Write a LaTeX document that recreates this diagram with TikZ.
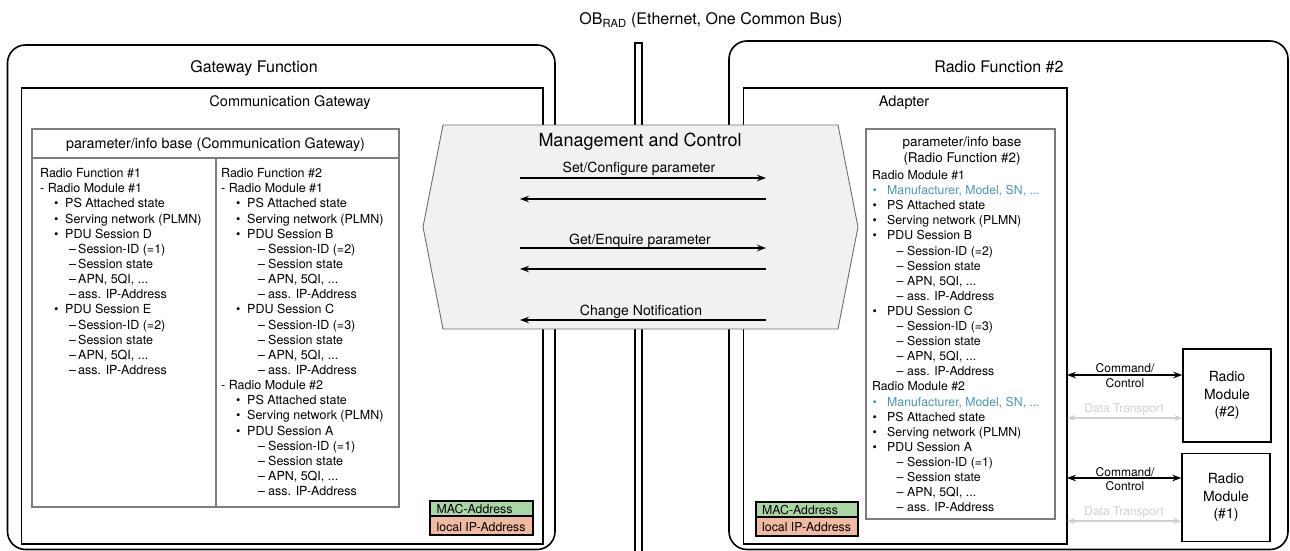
\documentclass[tikz,border=0pt]{standalone}
\usepackage{fontspec}
\setmainfont{TeX Gyre Heros}
\usetikzlibrary{arrows.meta,calc}

\definecolor{macgreen}{RGB}{170,214,166}
\definecolor{ipsalmon}{RGB}{240,186,160}
\definecolor{infoteal}{RGB}{74,152,178}
\definecolor{mgmtfill}{RGB}{241,241,241}
\definecolor{mgmtline}{RGB}{110,110,110}
\definecolor{tblgray}{RGB}{125,125,125}
\definecolor{faint}{RGB}{208,208,208}

% indentation of bullet and dash entries in the parameter lists
\newlength\bulx \newlength\bulw \newlength\dshx \newlength\dshw
\newcommand{\bitem}[1]{\hspace*{\bulx}\makebox[\bulw][l]{•}#1}
\newcommand{\ditem}[1]{\hspace*{\dshx}\makebox[\dshw][l]{–}#1}

\begin{document}
\begin{tikzpicture}[x=1pt,y=-1pt,
  outerbox/.style={draw=black, line width=1.6pt, rounded corners=18pt},
  innerbox/.style={draw=black, line width=1.4pt},
  tablebox/.style={draw=tblgray, line width=1.1pt},
  txt/.style={inner sep=0pt, anchor=base},
  bigtitle/.style={txt, font=\fontsize{16}{19}\selectfont},
  subtitle/.style={txt, font=\fontsize{14.5}{17}\selectfont},
  hdr/.style={txt, font=\fontsize{14.3}{17}\selectfont},
  rhdr/.style={txt, font=\fontsize{13.4}{16}\selectfont},
  mctitle/.style={txt, font=\fontsize{18}{21}\selectfont},
  msglbl/.style={txt, font=\fontsize{14}{17}\selectfont},
  % multi-line lists are placed by the baseline of their last line
  lst/.style={inner sep=0pt, anchor=base west, align=left, font=\fontsize{12.5}{15.15}\selectfont},
  rlst/.style={inner sep=0pt, anchor=base west, align=left, font=\fontsize{12.3}{15.1}\selectfont},
  small/.style={txt, font=\fontsize{12}{14}\selectfont},
  maclbl/.style={inner sep=0pt, anchor=base west, font=\fontsize{12.3}{14}\selectfont},
  modbox/.style={draw=black, line width=1.4pt, inner sep=0pt, align=center,
                 font=\fontsize{14}{17.6}\selectfont},
  msg/.style={line width=1.1pt, -{Stealth[length=9pt,width=6.5pt]}},
  ctl/.style={line width=1.3pt, {Stealth[length=9pt,width=6.5pt]}-{Stealth[length=9pt,width=6.5pt]}},
  dat/.style={draw=faint, line width=1.1pt, {Stealth[length=8pt,width=6pt]}-{Stealth[length=8pt,width=6pt]}}
]
\useasboundingbox (0,0) rectangle (1290,551);

% ---------- bus ----------
\node[bigtitle] (bustitle) at (711,25) {OB\textsubscript{RAD} (Ethernet, One Common Bus)};
\draw[line width=1.2pt] (635,560) -- (635,43) -- (642,43) -- (642,560);

% ---------- gateway side ----------
\draw[outerbox] (7.5,45) rectangle (555,549.5);
\node[bigtitle] (gwtitle) at (254,73) {Gateway Function};
\draw[innerbox] (21.5,88) rectangle (543,544);
\node[subtitle] (cgtitle) at (290,106) {Communication Gateway};

\draw[tablebox] (32,129) rectangle (399,507);
\draw[tablebox] (32,158) -- (399,158);
\draw[tablebox] (216,158) -- (216,507);
\node[hdr] (cghdr) at (215.5,148) {parameter/info base (Communication Gateway)};

\setlength\bulx{14pt}\setlength\bulw{11pt}\setlength\dshx{29pt}\setlength\dshw{9pt}
\node[lst] (colA) at (40,374.5) {%
Radio Function \#1\\
- Radio Module \#1\\
\bitem{PS Attached state}\\
\bitem{Serving network (PLMN)}\\
\bitem{PDU Session D}\\
\ditem{Session-ID (=1)}\\
\ditem{Session state}\\
\ditem{APN, 5QI, ...}\\
\ditem{ass. IP-Address}\\
\bitem{PDU Session E}\\
\ditem{Session-ID (=2)}\\
\ditem{Session state}\\
\ditem{APN, 5QI, ...}\\
\ditem{ass. IP-Address}};

\setlength\bulx{15pt}\setlength\bulw{11pt}\setlength\dshx{37pt}\setlength\dshw{10pt}
\node[lst] (colB) at (221,495.7) {%
Radio Function \#2\\
- Radio Module \#1\\
\bitem{PS Attached state}\\
\bitem{Serving network (PLMN)}\\
\bitem{PDU Session B}\\
\ditem{Session-ID (=2)}\\
\ditem{Session state}\\
\ditem{APN, 5QI, ...}\\
\ditem{ass. IP-Address}\\
\bitem{PDU Session C}\\
\ditem{Session-ID (=3)}\\
\ditem{Session state}\\
\ditem{APN, 5QI, ...}\\
\ditem{ass. IP-Address}\\
- Radio Module \#2\\
\bitem{PS Attached state}\\
\bitem{Serving network (PLMN)}\\
\bitem{PDU Session A}\\
\ditem{Session-ID (=1)}\\
\ditem{Session state}\\
\ditem{APN, 5QI, ...}\\
\ditem{ass. IP-Address}};

\draw[line width=1.3pt, fill=macgreen] (430,501) rectangle (533,516);
\draw[line width=1.3pt, fill=ipsalmon] (430,516) rectangle (533,535);
\node[maclbl] (macA) at (436.5,513.5) {MAC-Address};
\node[maclbl] (ipA) at (436.5,531) {local IP-Address};

% ---------- radio function side ----------
\draw[outerbox] (729,41) rectangle (1288,549.5);
\node[bigtitle] (rftitle) at (999,73) {Radio Function \#2};
\draw[innerbox] (743.5,88) rectangle (1067,544);
\node[subtitle] (adtitle) at (904,106) {Adapter};

\draw[tablebox] (866,129) rectangle (1055,519);
\node[rhdr] (rfhdrA) at (962,146) {parameter/info base};
\node[rhdr] (rfhdrB) at (962,162) {(Radio Function \#2)};

\setlength\bulx{0.5pt}\setlength\bulw{14.5pt}\setlength\dshx{24.5pt}\setlength\dshw{10.5pt}
\node[rlst] (colC) at (872,511.7) {%
Radio Module \#1\\
{\color{infoteal}\bitem{Manufacturer, Model, SN, ...}}\\
\bitem{PS Attached state}\\
\bitem{Serving network (PLMN)}\\
\bitem{PDU Session B}\\
\ditem{Session-ID (=2)}\\
\ditem{Session state}\\
\ditem{APN, 5QI, ...}\\
\ditem{ass. IP-Address}\\
\bitem{PDU Session C}\\
\ditem{Session-ID (=3)}\\
\ditem{Session state}\\
\ditem{APN, 5QI, ...}\\
\ditem{ass. IP-Address}\\
Radio Module \#2\\
{\color{infoteal}\bitem{Manufacturer, Model, SN, ...}}\\
\bitem{PS Attached state}\\
\bitem{Serving network (PLMN)}\\
\bitem{PDU Session A}\\
\ditem{Session-ID (=1)}\\
\ditem{Session state}\\
\ditem{APN, 5QI, ...}\\
\ditem{ass. IP-Address}};

\draw[line width=1.3pt, fill=macgreen] (756,502) rectangle (858,517);
\draw[line width=1.3pt, fill=ipsalmon] (756,517) rectangle (858,536);
\node[maclbl] (macB) at (762,514) {MAC-Address};
\node[maclbl] (ipB) at (762,531.5) {local IP-Address};

% ---------- radio modules ----------
\node[modbox, minimum width=88pt, minimum height=93pt] (rm2) at (1227,395.5) {Radio\\Module\\(\#2)};
\node[modbox, minimum width=88pt, minimum height=88pt] (rm1) at (1226,497.5) {Radio\\Module\\(\#1)};

\coordinate (cc2) at (1067,375);
\coordinate (dt2) at (1067,418);
\coordinate (cc1) at (1067,478);
\coordinate (dt1) at (1067,521);
\draw[ctl] (cc2) -- (rm2.west |- cc2);
\draw[dat] (dt2) -- (rm2.west |- dt2);
\draw[ctl] (cc1) -- (rm1.west |- cc1);
\draw[dat] (dt1) -- (rm1.west |- dt1);
\node[small] (cc2a) at (1125,372.5) {Command/};
\node[small] (cc2b) at (1125,387.5) {Control};
\node[small, text=faint] (dt2l) at (1124,412.5) {Data Transport};
\node[small] (cc1a) at (1125,476) {Command/};
\node[small] (cc1b) at (1125,490.5) {Control};
\node[small, text=faint] (dt1l) at (1124,515.5) {Data Transport};

% ---------- management and control ----------
\draw[draw=mgmtline, fill=mgmtfill, line width=0.9pt]
  (423,227) -- (443,125) -- (838,125) -- (858,227) -- (838,329) -- (443,329) -- cycle;
\node[mctitle] (mctitle) at (640,146) {Management and Control};

\coordinate (a1L) at (520,178);  \coordinate (a1R) at (766,178);
\coordinate (a2L) at (520,199);  \coordinate (a2R) at (766,199);
\coordinate (a3L) at (520,248);  \coordinate (a3R) at (766,248);
\coordinate (a4L) at (520,269);  \coordinate (a4R) at (766,269);
\coordinate (a5L) at (520,320);  \coordinate (a5R) at (766,320);
\draw[msg] (a1L) -- (a1R);
\draw[msg] (a2R) -- (a2L);
\draw[msg] (a3L) -- (a3R);
\draw[msg] (a4R) -- (a4L);
\draw[msg] (a5R) -- (a5L);
\node[msglbl] (setlbl) at (639,172.5) {Set/Configure parameter};
\node[msglbl] (getlbl) at (640,244) {Get/Enquire parameter};
\node[msglbl] (chglbl) at (641,315) {Change Notification};
\end{tikzpicture}
\end{document}
